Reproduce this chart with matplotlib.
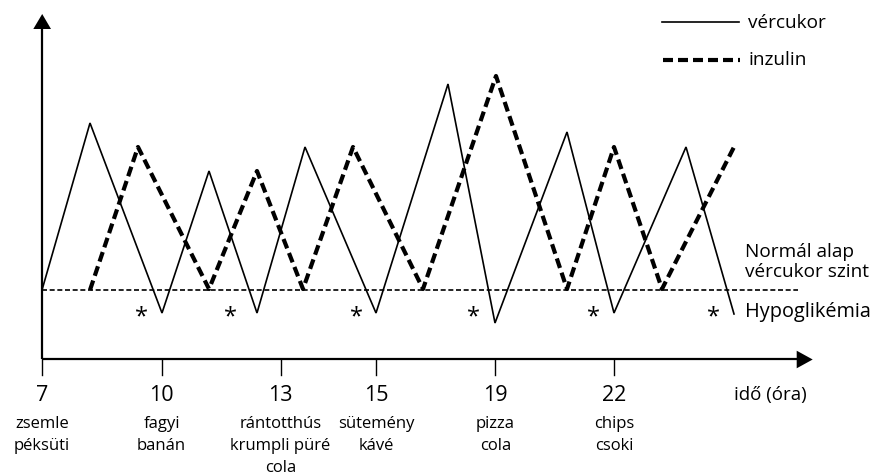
import matplotlib
matplotlib.use("Agg")
import matplotlib.pyplot as plt

plt.rcParams['font.family'] = ['Open Sans', 'DejaVu Sans']

# schematic positions (x in picture units, y = level above the normal baseline)
gluc_x = [42, 90, 162, 209, 257, 305, 376, 448, 495, 567, 614, 686, 734]
gluc_y = [0, 167, -23, 119, -23, 143, -23, 206, -33, 158, -23, 143, -24]
ins_x = [90, 138, 209, 257, 303, 353, 423, 496, 567, 614, 662, 734]
ins_y = [0, 143, 1, 119, 1, 143, 1, 214, 1, 143, 1, 143]

tick_pos = [42, 161.5, 280.5, 376, 495.3, 614.3]
tick_labels = ['7', '10', '13', '15', '19', '22']
food_labels = ['zsemle\npéksüti', 'fagyi\nbanán', 'rántotthús\nkrumpli püré\ncola',
               'sütemény\nkávé', 'pizza\ncola', 'chips\ncsoki']
hypo_x = [141.5, 230, 356.5, 473.5, 593.5, 713.5]
hypo_y = -26

W, H = 882, 477
fig = plt.figure(figsize=(W / 100, H / 100), dpi=100)
ax = fig.add_axes([0, 0, 1, 1])
ax.set_xlim(0, W)
ax.set_ylim(291 - H, 291)
ax.axis('off')

def Y(py):
    return 291 - py

# axes
ax.plot([42, 42], [Y(360), Y(28)], color='black', lw=1.6, solid_capstyle='butt')
ax.plot([42, 798], [Y(360), Y(360)], color='black', lw=1.6, solid_capstyle='butt')
ax.fill([33.3, 51, 42.2], [Y(30), Y(30), Y(15)], color='black', lw=0)
ax.fill([796.7, 796.7, 812.7], [Y(351.7), Y(369.3), Y(360.5)], color='black', lw=0)

# baseline
ax.plot([42, 798], [0, 0], color='black', lw=1.2, dashes=(3.0, 1.6))

# series
ax.plot(gluc_x, gluc_y, color='black', lw=1.2, solid_joinstyle='miter')
ax.plot(ins_x, ins_y, color='black', lw=3.0, dashes=(2.4, 1.2), dash_capstyle='butt')

# hypoglycemia markers
for hx in hypo_x:
    ax.text(hx, hypo_y, '*', ha='center', va='center', fontsize=17)

# ticks and labels
for tp, tl, fl in zip(tick_pos, tick_labels, food_labels):
    ax.plot([tp, tp], [Y(360), Y(376)], color='black', lw=1.0)
    ax.text(tp, Y(396), tl, ha='center', va='center', fontsize=15.5)
    ax.text(tp, Y(416), fl, ha='center', va='top', fontsize=12, linespacing=1.5)

ax.text(770, Y(395), 'idő (óra)', ha='center', va='center', fontsize=13.5)

# right-hand annotations
ax.text(745, Y(262), 'Normál alap\nvércukor szint', ha='left', va='center',
        fontsize=13.7, linespacing=1.2)
ax.text(745, Y(312), 'Hypoglikémia', ha='left', va='center', fontsize=14.3)

# legend
ax.plot([662, 739], [Y(23.3), Y(23.3)], color='black', lw=1.2)
ax.text(748, Y(23), 'vércukor', ha='left', va='center', fontsize=13.7)
ax.plot([662.7, 740], [Y(60.7), Y(60.7)], color='black', lw=3.0, dashes=(2.4, 1.2), dash_capstyle='butt')
ax.text(748, Y(60), 'inzulin', ha='left', va='center', fontsize=13.7)

fig.savefig('out.png', dpi=100)
